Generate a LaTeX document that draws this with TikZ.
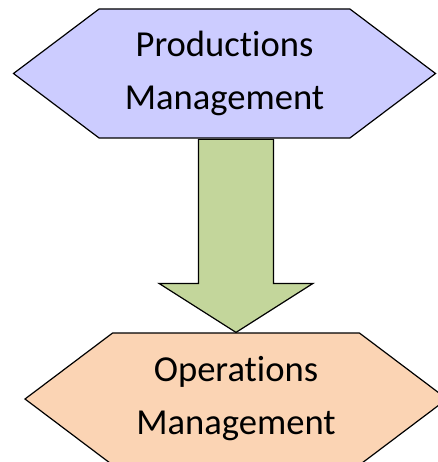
\documentclass[tikz,border=0pt]{standalone}
\usepackage{fontspec}
\setmainfont{Carlito}[Ligatures=NoCommon]
\usepackage{tikz}
\usetikzlibrary{shapes.symbols,calc,backgrounds}
\definecolor{prodblue}{RGB}{204,204,255}
\definecolor{opspeach}{RGB}{251,212,180}
\definecolor{arrowgreen}{RGB}{195,214,155}

\begin{document}
\begin{tikzpicture}[x=1pt, y=-1pt,
    hexbox/.style={signal, signal to=west and east, signal pointer angle=74,
        draw, line width=1.2pt, minimum width=422pt, inner sep=0pt,
        align=center, font=\fontsize{36.6}{53}\selectfont},
    flowarrow/.style={draw, line width=1.2pt, fill=arrowgreen, line join=miter}]
    \useasboundingbox (0,0) rectangle (437,462);
    \path
        node (prod) at (224.5,73.5) [hexbox, fill=prodblue, minimum height=129pt] {Productions\\Management}
        node (ops) at (236,399) [hexbox, fill=opspeach, minimum height=132pt] {Operations\\Management};
    \coordinate (tip) at (ops.north);
    \begin{scope}[on background layer]
    \draw[flowarrow] ($(tip)+(-37.5,-193)$) -- ($(tip)+(-37.5,-49)$) -- ($(tip)+(-77,-49)$)
        -- (tip) -- ($(tip)+(77,-49)$) -- ($(tip)+(37.5,-49)$) -- ($(tip)+(37.5,-193)$) -- cycle;
    \end{scope}
\end{tikzpicture}
\end{document}
